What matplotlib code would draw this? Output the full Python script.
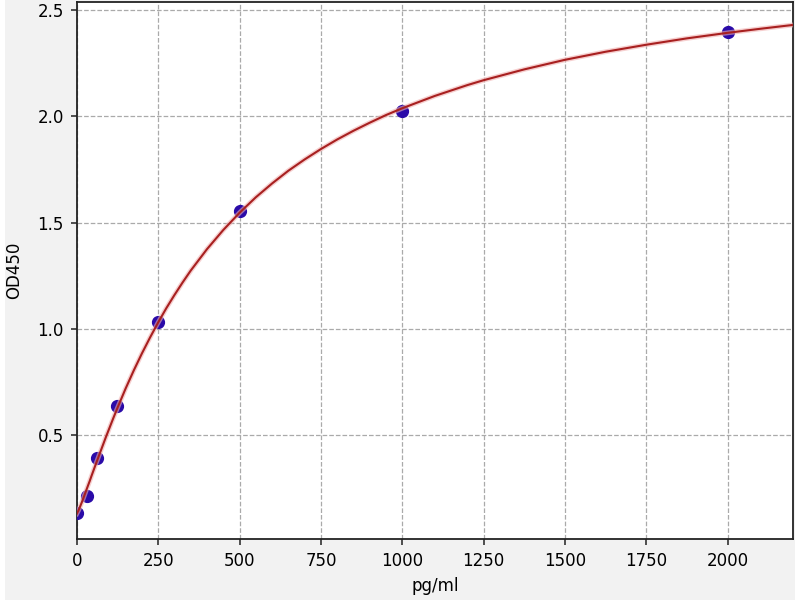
import matplotlib
matplotlib.use('Agg')
import matplotlib.pyplot as plt
from matplotlib.patches import Rectangle

# Standard points
conc = [0, 31.25, 62.5, 125, 250, 500, 1000, 2000]
od = [0.134, 0.214, 0.392, 0.636, 1.032, 1.554, 2.025, 2.395]

# Fitted curve
curve_x = [0, 5, 10, 15, 20, 30, 40, 45, 60, 70, 80, 90, 100, 112, 125, 150,
           175, 200, 225, 250, 275, 300, 325, 350, 400, 450, 500, 550, 600,
           650, 700, 750, 800, 850, 900, 950, 1000, 1100, 1200, 1250, 1375,
           1500, 1625, 1750, 1875, 2000, 2100, 2200]
curve_y = [0.130, 0.145, 0.163, 0.182, 0.202, 0.244, 0.285, 0.307, 0.370, 0.411,
           0.452, 0.493, 0.532, 0.579, 0.628, 0.719, 0.804, 0.884, 0.959, 1.030,
           1.097, 1.159, 1.218, 1.274, 1.375, 1.465, 1.546, 1.619, 1.684, 1.744,
           1.797, 1.846, 1.891, 1.932, 1.970, 2.006, 2.038, 2.096, 2.147, 2.170,
           2.221, 2.266, 2.304, 2.337, 2.367, 2.393, 2.412, 2.430]

x_ticks = [0, 250, 500, 750, 1000, 1250, 1500, 1750, 2000]
y_ticks = [0.5, 1.0, 1.5, 2.0, 2.5]

fig = plt.figure(figsize=(8, 6), dpi=100, facecolor='#f2f2f2')

# white strips at the left and right edges
fig.patches.append(Rectangle((0, 0), 0.006, 1, transform=fig.transFigure,
                             facecolor='white', edgecolor='none'))
fig.patches.append(Rectangle((0.994, 0), 0.006, 1, transform=fig.transFigure,
                             facecolor='white', edgecolor='none'))

ax = fig.add_axes([0.096, 0.1017, 0.895, 0.8953])
ax.set_facecolor('white')

ax.plot(conc, od,
        linestyle='',
        marker='o',
        markersize=8.5,
        color='#2a0aa8',
        zorder=3)

ax.plot(curve_x, curve_y,
        color='#f0b0b0',
        linewidth=3.5,
        alpha=0.6,
        zorder=4)
ax.plot(curve_x, curve_y,
        color='#a82020',
        linewidth=1.5,
        zorder=5)

ax.set_xlim(0, 2200)
ax.set_ylim(0.011, 2.539)
ax.set_xticks(x_ticks)
ax.set_yticks(y_ticks)
ax.tick_params(labelsize=12, color='#333333', width=1.2, length=4.3, pad=5)

ax.set_xlabel('pg/ml', fontsize=12, labelpad=5)
ax.set_ylabel('OD450', fontsize=12, labelpad=10)

ax.grid(True, linestyle='--', color='#aaaaaa', linewidth=0.9)

for s in ax.spines.values():
    s.set_linewidth(1.3)
    s.set_color('#222222')

fig.savefig('out.png', dpi=100, facecolor=fig.get_facecolor())
